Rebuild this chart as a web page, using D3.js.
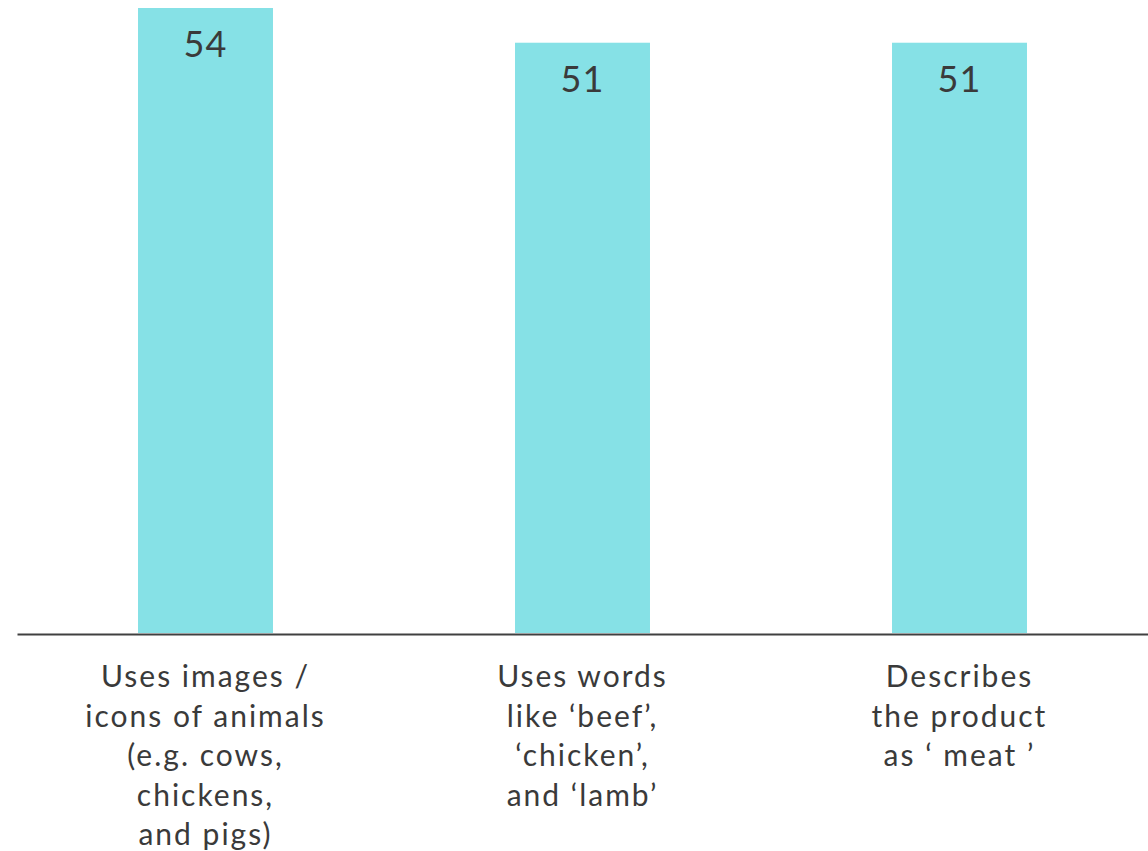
<!DOCTYPE html>
<html>
<head>
<meta charset="utf-8">
<script src="https://cdn.jsdelivr.net/npm/d3@7"></script>
<style>
  html, body { margin: 0; padding: 0; background: #fff; }
  svg { display: block; }
</style>
</head>
<body>
<svg id="chart" width="1148" height="851"></svg>
<script>
// Share of products with each labelling feature
const categories = [
  ["Uses images /", "icons of animals", "(e.g. cows,", "chickens,", "and pigs)"],
  ["Uses words", "like \u2018beef\u2019,", "\u2018chicken\u2019,", "and \u2018lamb\u2019"],
  ["Describes", "the product", "as \u2018 meat \u2019"]
];
const values = [54, 51, 51];
const valueLabels = ["54", "51", "51"];

const W = 1148, H = 851;
const baseline = 633;
const fontFamily = "'Lato', 'Noto Sans', sans-serif";
const textColor = "#3a3a3a";

const svg = d3.select("#chart");

const x = d3.scaleBand()
  .domain(d3.range(values.length))
  .range([17, W])
  .paddingInner(0.642)
  .paddingOuter(0.321);

const y = d3.scaleLinear()
  .domain([0, 54])
  .range([baseline, 8]);

// bars
svg.append("g")
  .selectAll("rect")
  .data(values)
  .join("rect")
  .attr("x", (d, i) => x(i))
  .attr("y", d => y(d))
  .attr("width", x.bandwidth())
  .attr("height", d => baseline - y(d))
  .attr("fill", "#86e1e6");

// value labels inside the top of each bar
svg.append("g")
  .selectAll("text")
  .data(values)
  .join("text")
  .attr("x", (d, i) => x(i) + x.bandwidth() / 2)
  .attr("y", d => y(d) + 49)
  .attr("text-anchor", "middle")
  .attr("font-family", fontFamily)
  .attr("font-size", 36)
  .attr("letter-spacing", 1)
  .attr("fill", textColor)
  .text((d, i) => valueLabels[i]);

// category axis
const axis = d3.axisBottom(x).tickSize(0).tickFormat("");
const axisG = svg.append("g")
  .attr("transform", `translate(0,${baseline + 1})`)
  .call(axis);
axisG.select(".domain")
  .attr("stroke", "#404040")
  .attr("stroke-width", 2);

// multi-line category labels
const lineHeight = 39.5;
const labels = svg.append("g")
  .selectAll("text")
  .data(categories)
  .join("text")
  .attr("text-anchor", "middle")
  .attr("font-family", fontFamily)
  .attr("font-size", 30)
  .attr("letter-spacing", 2)
  .attr("fill", textColor);

labels.each(function(lines, i) {
  const cx = x(i) + x.bandwidth() / 2;
  d3.select(this).selectAll("tspan")
    .data(lines)
    .join("tspan")
    .attr("x", cx)
    .attr("y", (d, j) => 687 + j * lineHeight)
    .text(d => d);
});
</script>
</body>
</html>
